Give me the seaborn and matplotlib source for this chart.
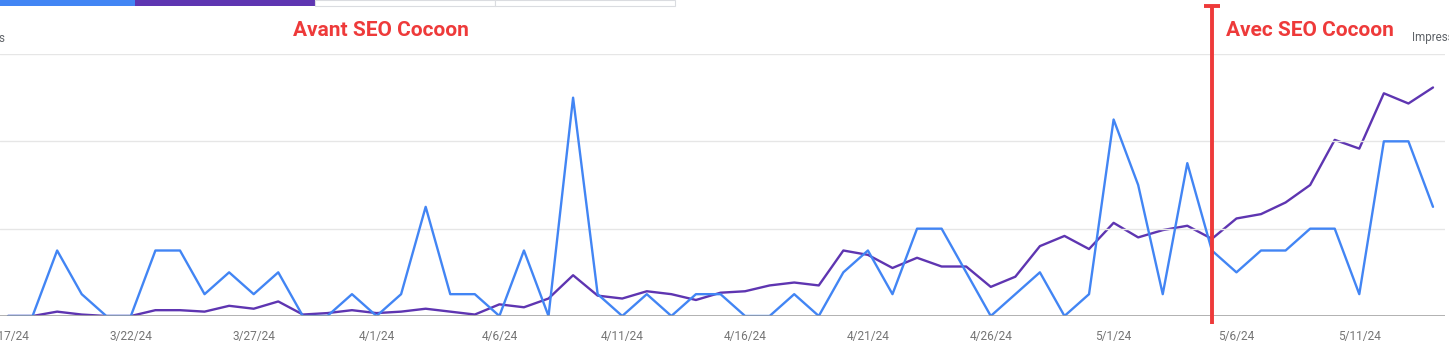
import numpy as np
import pandas as pd
import matplotlib
matplotlib.use("Agg")
import matplotlib.pyplot as plt
import seaborn as sns
from matplotlib.patches import Rectangle
from matplotlib.lines import Line2D

# ---- data ----
dates = pd.date_range("2024-03-17", "2024-05-14", freq="D")
clicks = [0, 0, 3, 1, 0, 0, 3, 3, 1, 2, 1, 2, 0, 0, 1, 0, 1, 5, 1, 1,
          0, 3, 0, 10, 1, 0, 1, 0, 1, 1, 0, 0, 1, 0, 2, 3, 1, 4, 4, 2,
          0, 1, 2, 0, 1, 9, 6, 1, 7, 3, 2, 3, 3, 4, 4, 1, 8, 8, 5]
impressions = [0, 0, 3, 1, 0, 0, 4, 4, 3, 7, 5, 10, 1, 2, 4, 2, 3, 5, 3, 1,
               8, 6, 12, 28, 14, 12, 17, 15, 11, 16, 17, 21, 23, 21, 45, 42, 33, 40, 34, 34,
               20, 27, 48, 55, 46, 64, 54, 59, 62, 53, 67, 70, 78, 90, 121, 115, 153, 146, 157]
tick_dates = pd.date_range("2024-03-17", "2024-05-14", freq="5D")
tick_labels = [f"{d.month}/{d.day}/24" for d in tick_dates]
before_label = "Avant SEO Cocoon"
after_label = "Avec SEO Cocoon"
switch_date = pd.Timestamp("2024-05-05")

df = pd.DataFrame({"day": np.arange(len(dates)), "date": dates,
                   "clicks": clicks, "impressions": impressions})

sns.set_theme(style="white")
plt.rcParams["font.family"] = ["Roboto", "DejaVu Sans"]

W, H = 1449, 352
fig = plt.figure(figsize=(W / 100, H / 100), dpi=100)
fig.patch.set_facecolor("white")

def fx(px):
    return px / W

def fy(py):
    return 1 - py / H

left_px, right_px, top_px, base_px = 0, 1445, 54, 316
ax = fig.add_axes([fx(left_px), fy(base_px), fx(right_px - left_px), (base_px - top_px) / H])
ax2 = ax.twinx()
ax2.set_position(ax.get_position())

BLUE = "#4285F4"
PURPLE = "#5E35B1"
RED = "#EE3A3A"

sns.lineplot(data=df, x="day", y="impressions", ax=ax2, color=PURPLE, lw=1.7)
sns.lineplot(data=df, x="day", y="clicks", ax=ax, color=BLUE, lw=1.7)
# put blue above purple
ax.set_zorder(ax2.get_zorder() + 1)
ax.patch.set_visible(False)

px_per_day = (1433 - 8) / 58
ax.set_xlim(-8 / px_per_day, 58 + 12 / px_per_day)
ax2.set_xlim(ax.get_xlim())
ax.set_ylim(0, 12)
ax2.set_ylim(0, 180)

ax.set_yticks([0, 4, 8, 12])
ax.yaxis.grid(True, color="#e6e6e6", lw=1)
ax.xaxis.grid(False)
ax2.grid(False)
ax.set_yticklabels([])
ax2.set_yticks([])
ax.tick_params(axis="y", length=0)
for a in (ax, ax2):
    for s in a.spines.values():
        s.set_visible(False)
    a.set_xlabel("")
    a.set_ylabel("")
ax.axhline(0, color="#9e9e9e", lw=1.1, zorder=5)

tick_pos = [(d - dates[0]).days for d in tick_dates]
ax.set_xticks(tick_pos)
ax.set_xticklabels(tick_labels, color="#757575", fontsize=8.6)
ax.tick_params(axis="x", length=0, pad=10)
ax2.tick_params(axis="x", length=0, labelbottom=False)

# red separator line with T cap
sx = (switch_date - dates[0]).days
xpix = ax.transData.transform((sx, 0))[0]
fig.add_artist(Line2D([fx(xpix), fx(xpix)], [fy(6), fy(324)], color=RED, lw=2.8,
                      solid_capstyle="butt"))
fig.add_artist(Line2D([fx(xpix - 8), fx(xpix + 8)], [fy(6), fy(6)], color=RED, lw=2.8,
                      solid_capstyle="butt"))

# annotation texts
fig.text(fx(381), fy(31), before_label, color=RED, fontsize=15, fontweight="bold",
         ha="center", va="center")
fig.text(fx(1226), fy(31), after_label, color=RED, fontsize=15, fontweight="bold",
         ha="left", va="center")
fig.text(fx(1412), fy(38), "Impressions", color="#5f6368", fontsize=8.4,
         ha="left", va="center")
fig.text(fx(5), fy(38), "Clicks", color="#5f6368", fontsize=8.4,
         ha="right", va="center")

# metric cards strip at top
fig.add_artist(Rectangle((fx(0), fy(6)), fx(135), 6 / H, color=BLUE, lw=0))
fig.add_artist(Rectangle((fx(135), fy(6)), fx(180), 6 / H, color=PURPLE, lw=0))
for x0 in (315, 495):
    fig.add_artist(Rectangle((fx(x0), fy(6)), fx(180), 6 / H, facecolor="white",
                             edgecolor="#dadce0", lw=0.8))

fig.savefig("out.png", dpi=100, facecolor="white")
